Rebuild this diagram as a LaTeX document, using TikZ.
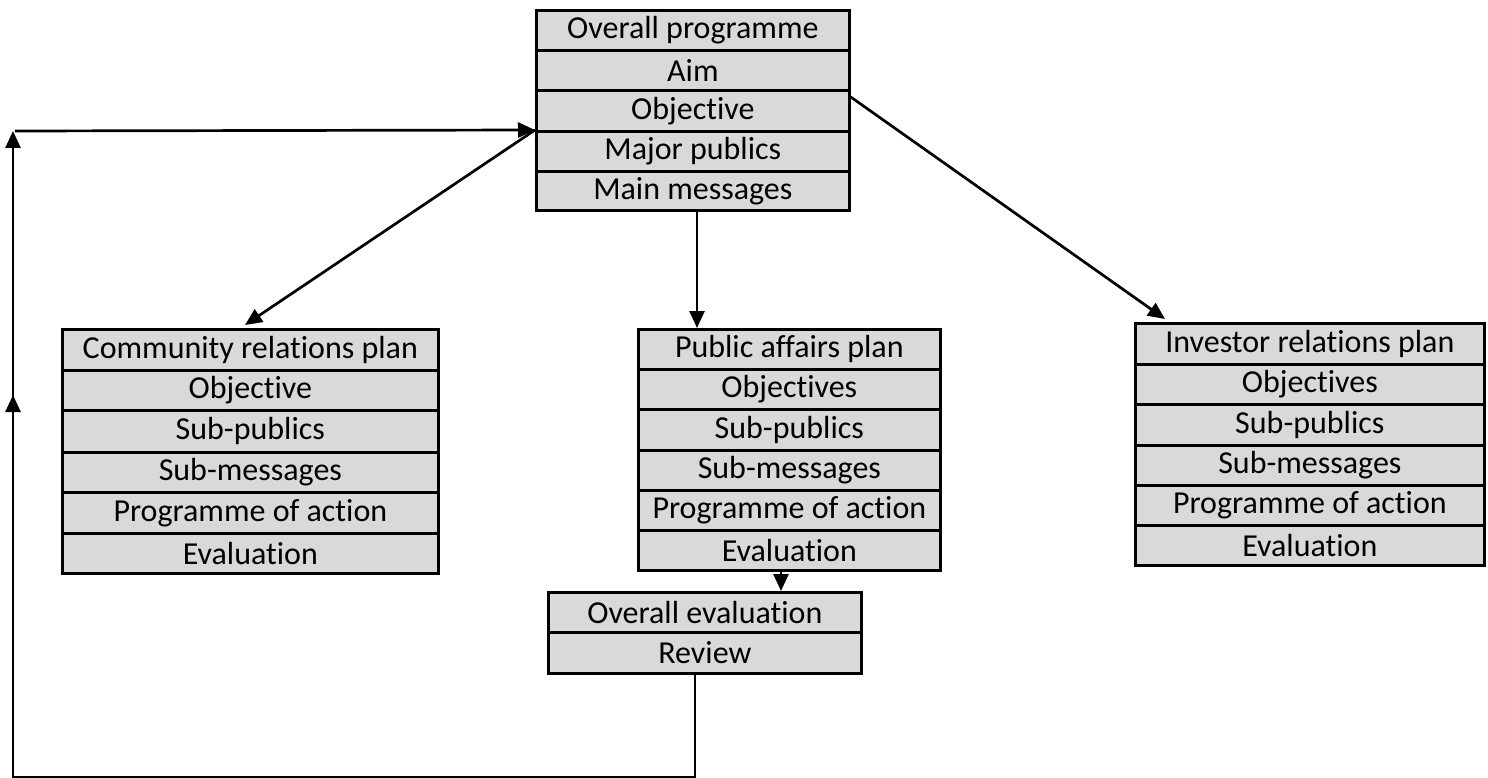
\documentclass[tikz,border=0pt]{standalone}
\usepackage{fontspec}
\setmainfont{Carlito}[Ligatures=NoCommon]
\usetikzlibrary{arrows.meta,calc}
\tikzset{
  row/.style={draw=black, line width=2.7pt, fill=cellgray, anchor=north west, inner sep=0pt,
    font=\fontsize{32}{36}\selectfont, text=black},
  conn/.style={draw=black, line width=2.7pt},
  tip/.style={-{Triangle[length=17pt,width=15pt]}}
}
\definecolor{cellgray}{HTML}{D9D9D9}
\newcommand{\mkrow}[6]{% name, x, y, w, h, text
  \node[row, minimum width=#4pt, minimum height=#5pt] (#1) at (#2pt,-#3pt) {#6};}
\begin{document}
\begin{tikzpicture}[x=1pt,y=1pt]
\useasboundingbox (0,0) rectangle (1488,-778);
% top box
\mkrow{t1}{535}{9}{313}{40}{Overall programme}
\mkrow{t2}{535}{49}{313}{40}{Aim}
\mkrow{t3}{535}{89}{313}{41}{Objective}
\mkrow{t4}{535}{130}{313}{40}{Major publics}
\mkrow{t5}{535}{170}{313}{39}{Main messages}
% community
\mkrow{c1}{61}{328}{376}{41}{Community relations plan}
\mkrow{c2}{61}{369}{376}{40}{Objective}
\mkrow{c3}{61}{409}{376}{42}{Sub-publics}
\mkrow{c4}{61}{451}{376}{40}{Sub-messages}
\mkrow{c5}{61}{491}{376}{41}{Programme of action}
\mkrow{c6}{61}{532}{376}{40}{Evaluation}
% public affairs
\mkrow{p1}{637}{328}{302}{40}{Public affairs plan}
\mkrow{p2}{637}{368}{302}{40}{Objectives}
\mkrow{p3}{637}{408}{302}{41}{Sub-publics}
\mkrow{p4}{637}{449}{302}{40}{Sub-messages}
\mkrow{p5}{637}{489}{302}{40}{Programme of action}
\mkrow{p6}{637}{529}{302}{40}{Evaluation}
% investor
\mkrow{i1}{1134}{322}{349}{41}{Investor relations plan}
\mkrow{i2}{1134}{363}{349}{40}{Objectives}
\mkrow{i3}{1134}{403}{349}{41}{Sub-publics}
\mkrow{i4}{1134}{444}{349}{40}{Sub-messages}
\mkrow{i5}{1134}{484}{349}{40}{Programme of action}
\mkrow{i6}{1134}{524}{349}{40}{Evaluation}
% overall evaluation
\mkrow{e1}{547}{591}{313}{40}{Overall evaluation}
\mkrow{e2}{547}{631}{313}{41}{Review}
% helper coordinates
\coordinate (cx) at (697,0);
\coordinate (ex) at (781,0);
\coordinate (fx) at (695,0);
\coordinate (bl) at (13,-777);
\coordinate (tl) at (13,-131);
\coordinate (mid) at (13,-395);
\coordinate (hs) at (15,-131);
% connectors
\draw[conn,tip] (t5.south -| cx) -- (p1.north -| cx);
\draw[conn,tip] (t4.north west) -- ($(c1.north west)+(184,3)$);
\draw[conn,tip] ($(t3.north east)+(0,-8)$) -- ($(i1.north west)+(31,3)$);
\draw[conn,tip] (p6.south -| ex) -- (e1.north -| ex);
\draw[conn] (e2.south -| fx) |- (bl) -- (mid);
\draw[conn,tip] (bl) -- (mid);
\draw[conn,tip] (mid) -- (tl);
\draw[conn,tip] (hs) -- (t4.north west);
\end{tikzpicture}
\end{document}
